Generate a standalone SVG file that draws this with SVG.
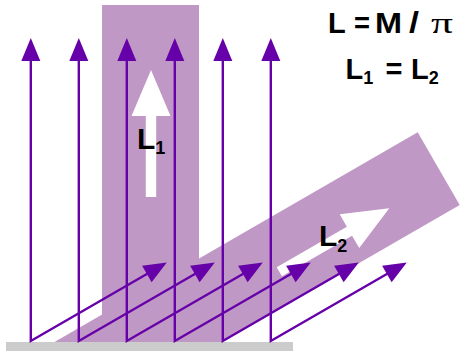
<svg xmlns="http://www.w3.org/2000/svg" xmlns:xlink="http://www.w3.org/1999/xlink" width="460" height="352" viewBox="0 0 460 352">
<style>
.band{fill:#c098c6}
.ground{fill:#cccccc}
.white{fill:#ffffff}
.ray{fill:none;stroke:#6600a8;stroke-width:2.4;marker-start:url(#headS);marker-end:url(#headE)}
.lbl{font-family:"Liberation Sans",Arial,sans-serif;font-weight:bold;fill:#000}
.pi{font-family:"Liberation Serif","Times New Roman",serif;font-weight:normal;fill:#000}
</style>
<defs>
<marker id="headE" markerUnits="userSpaceOnUse" markerWidth="24" markerHeight="20" refX="11" refY="9.5" orient="auto" viewBox="0 0 24 20" overflow="visible">
<path d="M0,0 L23,9.5 L0,19 z" fill="#6600a8"/>
</marker>
<marker id="headS" markerUnits="userSpaceOnUse" markerWidth="24" markerHeight="20" refX="11" refY="9.5" orient="auto-start-reverse" viewBox="0 0 24 20" overflow="visible">
<path d="M0,0 L23,9.5 L0,19 z" fill="#6600a8"/>
</marker>
<path id="bigArrow" d="M0,0 L19.5,46 L5.2,46 L5.2,127 L-5.2,127 L-5.2,46 L-19.5,46 z"/>
</defs>
<g id="beam-vertical"><rect class="band" x="102" y="5" width="97" height="337"/></g>
<g id="beam-reflected"><polygon class="band" points="417.7,132.3 459.7,205 222.4,342 54.5,342"/></g>
<g id="ground"><rect class="ground" x="6" y="342" width="287" height="9"/></g>
<g id="arrow-L1"><use xlink:href="#bigArrow" class="white" transform="translate(151,70)"/></g>
<g id="arrow-L2"><use xlink:href="#bigArrow" class="white" transform="translate(389.3,208.2) rotate(60)"/></g>
<g id="connectors">
<path class="ray" d="M30.8,50 L30.8,341 L156.4,268.5"/>
<path class="ray" d="M78.8,50 L78.8,341 L204.4,268.5"/>
<path class="ray" d="M126.8,50 L126.8,341 L252.4,268.5"/>
<path class="ray" d="M174.8,50 L174.8,341 L300.4,268.5"/>
<path class="ray" d="M222.8,50 L222.8,341 L348.4,268.5"/>
<path class="ray" d="M270.8,50 L270.8,341 L396.4,268.5"/>
</g>
<g id="label-L1"><text class="lbl" x="137" y="148.5" font-size="30">L<tspan font-size="18" dy="5.8">1</tspan></text></g>
<g id="label-L2"><text class="lbl" x="319" y="246" font-size="30">L<tspan font-size="18" dy="5.5">2</tspan></text></g>
<g id="equation-1">
<text class="lbl" x="328" y="33.3" font-size="29">L</text>
<text class="lbl" x="354" y="33.3" font-size="29" textLength="16" lengthAdjust="spacingAndGlyphs">=</text>
<text class="lbl" x="375" y="33.3" font-size="29" textLength="27" lengthAdjust="spacingAndGlyphs">M</text>
<text class="lbl" x="409" y="33.3" font-size="29" textLength="10" lengthAdjust="spacingAndGlyphs">/</text>
<text class="pi" x="431" y="33.3" font-size="30" textLength="22" lengthAdjust="spacingAndGlyphs">π</text>
</g>
<g id="equation-2"><text class="lbl" y="79" font-size="29"><tspan x="345.5">L</tspan><tspan font-size="18" dy="5">1</tspan><tspan x="385.5" dy="-5">=</tspan><tspan x="411">L</tspan><tspan font-size="18" dy="5">2</tspan></text></g>
</svg>
